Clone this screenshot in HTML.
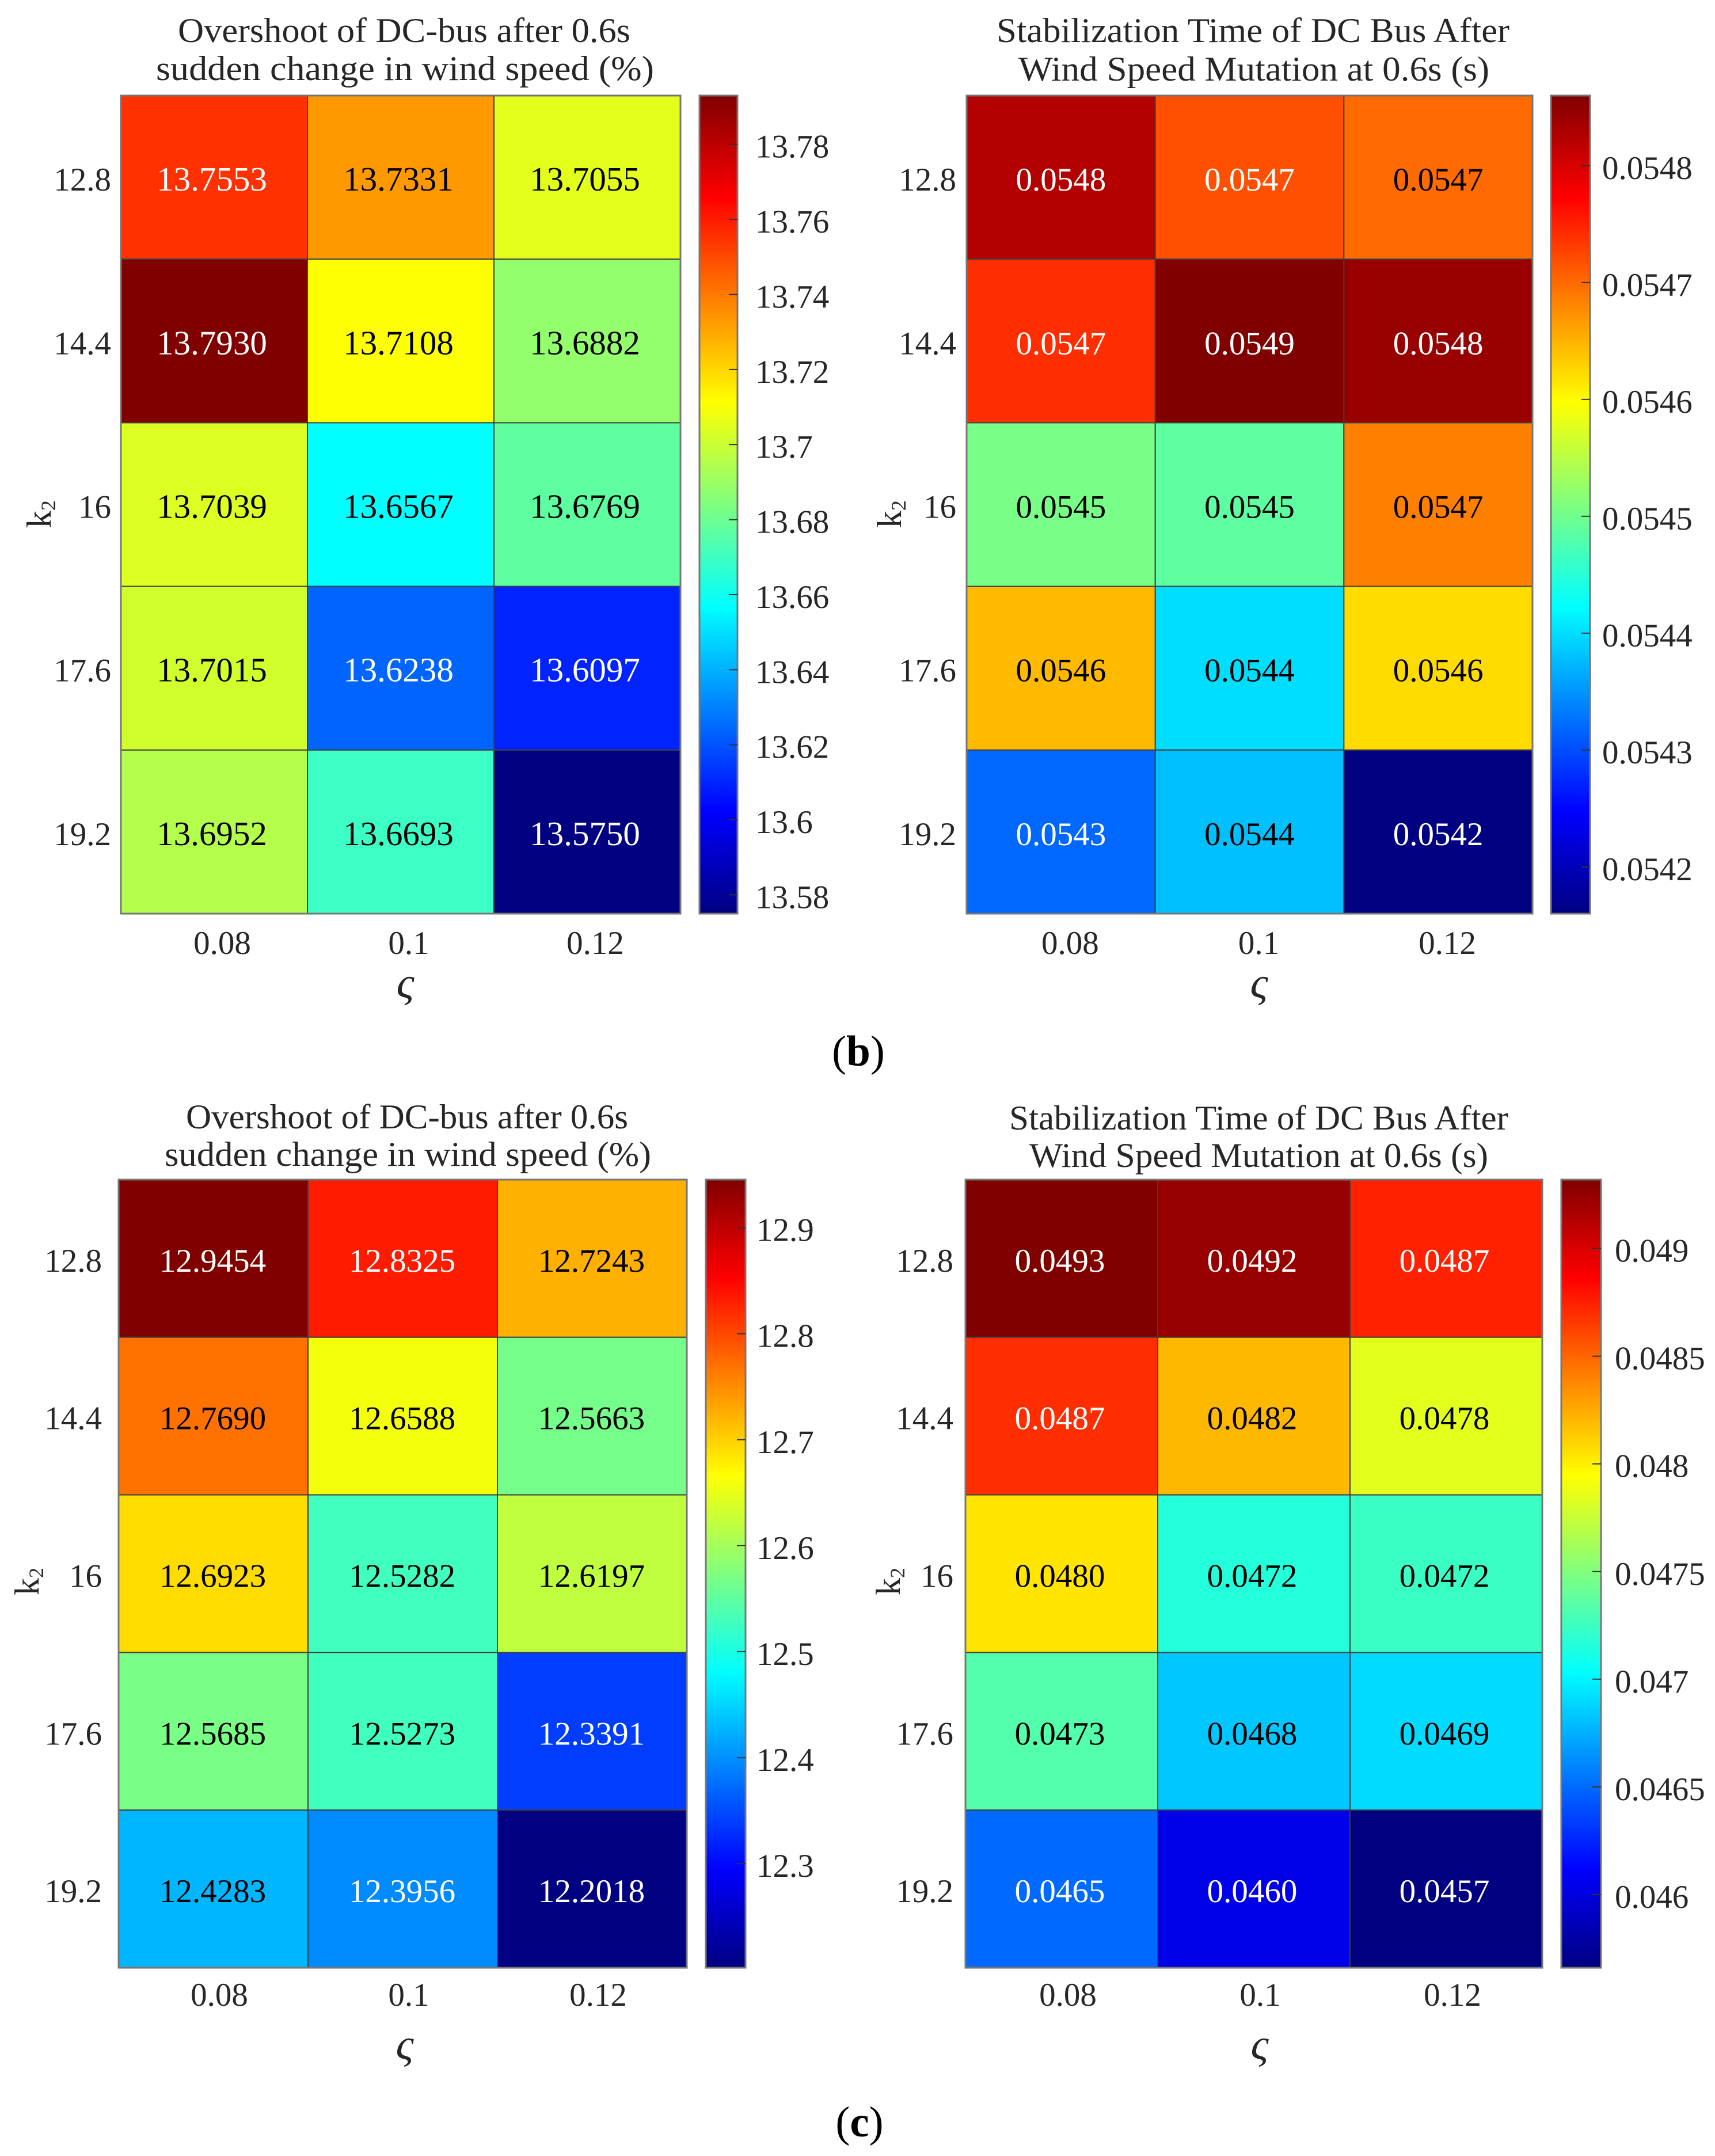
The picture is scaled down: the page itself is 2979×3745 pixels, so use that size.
<!DOCTYPE html>
<html lang="en">
<head>
<meta charset="utf-8">
<title>DC-bus overshoot and stabilization time heatmaps</title>
<style>
html,body{margin:0;padding:0;background:#fff;}
svg{display:block;}
text{font-family:"Liberation Serif","DejaVu Serif",serif;fill:#262626;}
</style>
</head>
<body>
<svg id="figure" xmlns="http://www.w3.org/2000/svg" width="2979" height="3745" viewBox="0 0 2979 3745">
  <rect x="0" y="0" width="2979" height="3745" fill="#ffffff"></rect>
  <defs>
    <linearGradient id="jet-gradient" x1="0" y1="1" x2="0" y2="0">
      <stop offset="0" stop-color="#000080"></stop>
      <stop offset="0.125" stop-color="#0000ff"></stop>
      <stop offset="0.375" stop-color="#00ffff"></stop>
      <stop offset="0.625" stop-color="#ffff00"></stop>
      <stop offset="0.875" stop-color="#ff0000"></stop>
      <stop offset="1" stop-color="#800000"></stop>
    </linearGradient>
  </defs>
  <text x="1491" y="1851" font-size="75" text-anchor="middle" style="fill:#000">(<tspan font-weight="bold">b</tspan>)</text>
  <text x="1493" y="3711" font-size="75" text-anchor="middle" style="fill:#000">(<tspan font-weight="bold">c</tspan>)</text>
</svg>
<script>
// Shared axis categories
const rowCategories = ["12.8", "14.4", "16", "17.6", "19.2"];
const columnCategories = ["0.08", "0.1", "0.12"];

// Panel (b) left: overshoot (%)
const overshootB = [
  [13.7553, 13.7331, 13.7055],
  [13.7930, 13.7108, 13.6882],
  [13.7039, 13.6567, 13.6769],
  [13.7015, 13.6238, 13.6097],
  [13.6952, 13.6693, 13.5750]
];
const overshootBTicks = [13.58, 13.6, 13.62, 13.64, 13.66, 13.68, 13.7, 13.72, 13.74, 13.76, 13.78];

// Panel (b) right: stabilization time (s); printed to 4 decimals, extra digits
const stabilizationB = [
  [0.054825, 0.054718, 0.054699],
  [0.054741, 0.05486, 0.054843],
  [0.054505, 0.054487, 0.054685],
  [0.054645, 0.05440, 0.054622],
  [0.054318, 0.054379, 0.05416]
];
const stabilizationBTicks = [0.0542, 0.0543, 0.0544, 0.0545, 0.0546, 0.0547, 0.0548];

// Panel (c) left: overshoot (%)
const overshootC = [
  [12.9454, 12.8325, 12.7243],
  [12.7690, 12.6588, 12.5663],
  [12.6923, 12.5282, 12.6197],
  [12.5685, 12.5273, 12.3391],
  [12.4283, 12.3956, 12.2018]
];
const overshootCTicks = [12.3, 12.4, 12.5, 12.6, 12.7, 12.8, 12.9];

// Panel (c) right: stabilization time (s)
const stabilizationC = [
  [0.04932, 0.04924, 0.048744],
  [0.04870, 0.048204, 0.047847],
  [0.04804, 0.04716, 0.04724],
  [0.047334, 0.046831, 0.046904],
  [0.046493, 0.04604, 0.04566]
];
const stabilizationCTicks = [0.046, 0.0465, 0.047, 0.0475, 0.048, 0.0485, 0.049];

const SVG_NS = "http://www.w3.org/2000/svg";
const figure = document.getElementById("figure");

function make(tag, attrs, parent, content) {
  const node = document.createElementNS(SVG_NS, tag);
  Object.keys(attrs).forEach(function (k) { node.setAttribute(k, attrs[k]); });
  if (content !== undefined) node.textContent = content;
  parent.appendChild(node);
  return node;
}

function jetChannel(t, center) {
  const v = 1.5 - Math.abs(4 * (t - center));
  return Math.max(0, Math.min(1, v));
}
function jetRgb(t) {
  return [jetChannel(t, 0.75), jetChannel(t, 0.5), jetChannel(t, 0.25)];
}
function cssColor(rgb) {
  return "rgb(" + rgb.map(function (c) { return Math.round(c * 255); }).join(",") + ")";
}
function luminance(rgb) {
  return 0.2126 * rgb[0] + 0.7152 * rgb[1] + 0.0722 * rgb[2];
}

function drawPanel(id, values, ticks, decimals, box) {
  const group = make("g", {}, figure);
  
  

  const flat = values.reduce(function (a, r) { return a.concat(r); }, []);
  const vMin = Math.min.apply(null, flat);
  const vMax = Math.max.apply(null, flat);
  const colorPos = function (v) { return (v - vMin) / (vMax - vMin); };
  const xBand = (box.right - box.left) / columnCategories.length;
  const yBand = (box.bottom - box.top) / rowCategories.length;
  const xScale = function (c) { return box.left + c * xBand; };
  const yScale = function (r) { return box.top + r * yBand; };
  const barY = function (v) { return box.top + (vMax - v) / (vMax - vMin) * (box.bottom - box.top); };

  box.title.forEach(function (line, i) {
    const title = make("text", {
      x: line.x0, y: line.y, "font-size": 60,
      textLength: line.x1 - line.x0, lengthAdjust: "spacingAndGlyphs"
    }, group, line.text);
    
    
  });

  values.forEach(function (row, r) {
    row.forEach(function (value, c) {
      const rgb = jetRgb(colorPos(value));
      const cell = make("rect", {
        x: xScale(c), y: yScale(r), width: xBand, height: yBand,
        fill: cssColor(rgb), stroke: "#404040", "stroke-width": 2
      }, group);
      
      
    });
  });

  values.forEach(function (row, r) {
    row.forEach(function (value, c) {
      const rgb = jetRgb(colorPos(value));
      const label = make("text", {
        x: xScale(c) + xBand / 2 + box.cellDx,
        y: yScale(r) + yBand / 2 + 23,
        "font-size": box.cellFont, "text-anchor": "middle",
        style: "fill:" + (luminance(rgb) < 0.5 ? "#ffffff" : "#000000")
      }, group, value.toFixed(decimals));
      
      
    });
  });

  const frame = make("rect", {
    x: box.left, y: box.top, width: box.right - box.left, height: box.bottom - box.top,
    fill: "none", stroke: "#767676", "stroke-width": 3
  }, group);
  
  

  rowCategories.forEach(function (cat, r) {
    const tick = make("text", {
      x: box.yTickRight, y: yScale(r) + yBand / 2 + 23,
      "font-size": 57, "text-anchor": "end"
    }, group, cat);
    
    
  });

  columnCategories.forEach(function (cat, c) {
    const tick = make("text", {
      x: xScale(c) + xBand / 2 + box.xTickDx, y: box.xTickY,
      "font-size": 57, "text-anchor": "middle"
    }, group, cat);
    
    
  });

  const yTitle = make("text", {
    transform: "translate(" + box.kX + "," + box.kY + ") rotate(-90)",
    x: 0, y: 0, "font-size": 60
  }, group);
  
  
  yTitle.appendChild(document.createTextNode("k"));
  const sub = make("tspan", { "font-size": 36, dy: 8 }, yTitle, "2");
  
  

  const xTitle = make("text", {
    x: box.zetaX, y: box.zetaY, "font-size": 76,
    "font-style": "italic", "text-anchor": "middle"
  }, group, "\u03C2");
  
  

  const bar = make("rect", {
    x: box.barLeft, y: box.top, width: box.barRight - box.barLeft, height: box.bottom - box.top,
    fill: "url(#jet-gradient)", stroke: "#767676", "stroke-width": 3
  }, group);
  
  

  ticks.forEach(function (t) {
    const y = barY(t);
    const mark = make("line", {
      x1: box.barRight - 15, x2: box.barRight, y1: y, y2: y,
      stroke: "#333333", "stroke-width": 2
    }, group);
    
    
    const label = make("text", {
      x: box.barLabelX, y: y + 23, "font-size": 57
    }, group, String(t));
    
    
  });
}

drawPanel("b-overshoot", overshootB, overshootBTicks, 4, {
  left: 210, right: 1182, top: 166, bottom: 1587,
  barLeft: 1215, barRight: 1281, barLabelX: 1312,
  cellFont: 59, cellDx: -4, xTickDx: 14, xTickY: 1657, yTickRight: 193,
  kX: 88, kY: 917, zetaX: 704, zetaY: 1733,
  title: [
    { text: "Overshoot of DC-bus after 0.6s", x0: 309, x1: 1095, y: 73 },
    { text: "sudden change in wind speed (%)", x0: 271, x1: 1136, y: 139 }
  ]
});

drawPanel("b-stabilization", stabilizationB, stabilizationBTicks, 4, {
  left: 1679, right: 2662, top: 166, bottom: 1587,
  barLeft: 2694, barRight: 2762, barLabelX: 2783,
  cellFont: 57, cellDx: 0, xTickDx: 16, xTickY: 1657, yTickRight: 1661,
  kX: 1565, kY: 917, zetaX: 2187, zetaY: 1733,
  title: [
    { text: "Stabilization Time of DC Bus After", x0: 1731, x1: 2622, y: 73 },
    { text: "Wind Speed Mutation at 0.6s (s)", x0: 1769, x1: 2587, y: 140 }
  ]
});

drawPanel("c-overshoot", overshootC, overshootCTicks, 4, {
  left: 206, right: 1193, top: 2049, bottom: 3418,
  barLeft: 1226, barRight: 1295, barLabelX: 1314,
  cellFont: 57, cellDx: -1, xTickDx: 10.5, xTickY: 3484, yTickRight: 177,
  kX: 67, kY: 2771, zetaX: 703, zetaY: 3577,
  title: [
    { text: "Overshoot of DC-bus after 0.6s", x0: 323, x1: 1091, y: 1960 },
    { text: "sudden change in wind speed (%)", x0: 286, x1: 1131, y: 2025 }
  ]
});

drawPanel("c-stabilization", stabilizationC, stabilizationCTicks, 4, {
  left: 1677, right: 2679, top: 2049, bottom: 3418,
  barLeft: 2712, barRight: 2781, barLabelX: 2805,
  cellFont: 57, cellDx: -3, xTickDx: 11, xTickY: 3484, yTickRight: 1656,
  kX: 1563, kY: 2771, zetaX: 2188, zetaY: 3577,
  title: [
    { text: "Stabilization Time of DC Bus After", x0: 1753, x1: 2620, y: 1962 },
    { text: "Wind Speed Mutation at 0.6s (s)", x0: 1788, x1: 2585, y: 2027 }
  ]
});
</script>
</body>
</html>
